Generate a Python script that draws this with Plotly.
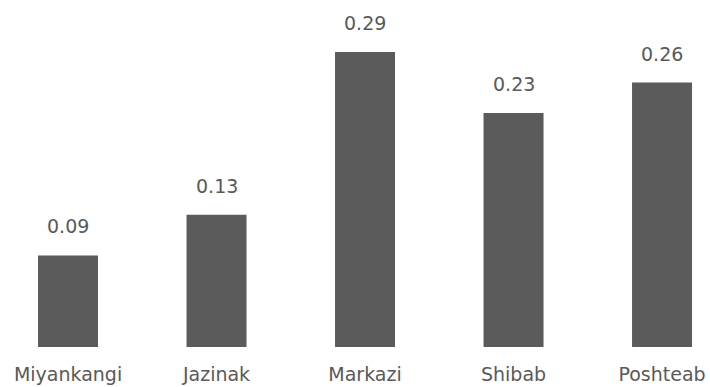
import plotly.graph_objects as go

categories = ["Miyankangi", "Jazinak", "Markazi", "Shibab", "Poshteab"]
values = [0.09, 0.13, 0.29, 0.23, 0.26]
value_labels = ["0.09", "0.13", "0.29", "0.23", "0.26"]

BAR = "#5b5b5b"
TXT = "#595959"
FONT = "DejaVu Sans"

fig = go.Figure(go.Bar(
    x=list(range(len(categories))), y=values,
    marker=dict(color=BAR, line=dict(width=0)),
    width=0.404, hoverinfo="skip",
))

for i, (v, t) in enumerate(zip(values, value_labels)):
    fig.add_annotation(x=i, y=v, text=t, showarrow=False, yanchor="bottom",
                       yshift=16, font=dict(family=FONT, size=19, color=TXT))

fig.update_layout(
    width=710, height=387,
    margin=dict(l=0, r=0, t=0, b=40),
    paper_bgcolor="white", plot_bgcolor="white",
    showlegend=False,
    xaxis=dict(range=[-0.458, 4.323], tickmode="array",
               tickvals=list(range(len(categories))), ticktext=categories,
               showgrid=False, zeroline=False, showline=False, ticks="",
               tickfont=dict(family=FONT, size=19, color=TXT),
               ticklabelstandoff=14, automargin=False),
    yaxis=dict(range=[0, 0.3412], visible=False, showgrid=False, zeroline=False),
)

fig.write_html(
    "out.html",
    config={"displayModeBar": False},
    post_script="document.body.style.margin='0';document.body.style.overflow='hidden';",
)
